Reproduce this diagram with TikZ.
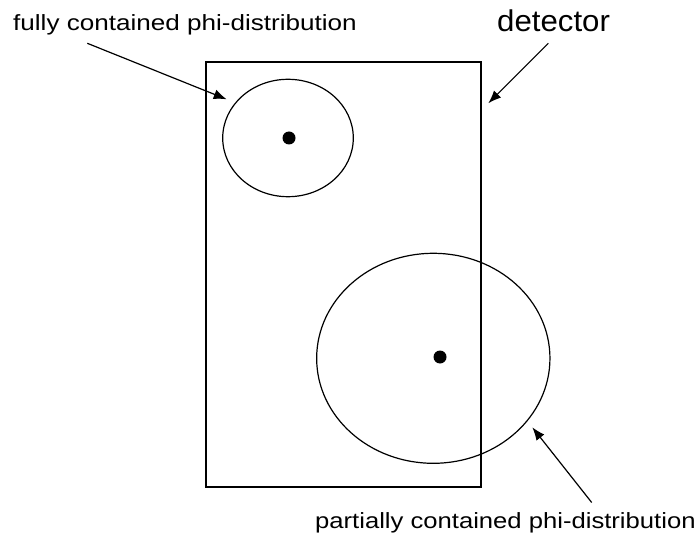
\documentclass[tikz,border=0pt]{standalone}
\usepackage{fontspec}
\setmainfont{Liberation Sans}
\usetikzlibrary{arrows.meta,shapes.geometric}
\begin{document}
\begin{tikzpicture}[x=1pt,y=-1pt,
  outline/.style={draw=black,line width=1.2pt,inner sep=0pt,outer sep=0pt},
  dist/.style={outline,ellipse},
  dot/.style={circle,fill=black,inner sep=0pt,minimum size=13pt},
  lbl/.style={inner sep=0pt,anchor=base west,font=\fontsize{22}{26}\selectfont},
  pointer/.style={draw=black,line width=1.2pt,-{Latex[length=13pt,width=10pt]}}]
\useasboundingbox (0,0) rectangle (698,537);
\node[outline,minimum width=275pt,minimum height=425pt] (det) at (343.5,274.5) {};
\node[dist,minimum width=130.6pt,minimum height=117.4pt] (small) at (288,138) {};
\node[dist,minimum width=233.3pt,minimum height=210pt] (large) at (433.3,358.3) {};
\node[dot] (c1) at (289,138) {};
\node[dot] (c2) at (440,357) {};
\node[lbl] (t1) at (13,31) {\scalebox{1.185}[1]{fully contained phi-distribution}};
\node[lbl,font=\fontsize{30}{35}\selectfont] (t2) at (497,31.7) {\scalebox{1.04}[1]{detector}};
\node[lbl] (t3) at (315,528.3) {\scalebox{1.165}[1]{partially contained phi-distribution}};
\coordinate (a1s) at (87.3,43.3);
\coordinate (a1e) at (226.7,99.3);
\coordinate (a2s) at (548.3,43.3);
\coordinate (a2e) at (488.3,103.3);
\coordinate (a3s) at (591.7,502.5);
\coordinate (a3e) at (532.3,427.3);
\draw[pointer] (a1s) -- (a1e);
\draw[pointer] (a2s) -- (a2e);
\draw[pointer] (a3s) -- (a3e);
\end{tikzpicture}
\end{document}
